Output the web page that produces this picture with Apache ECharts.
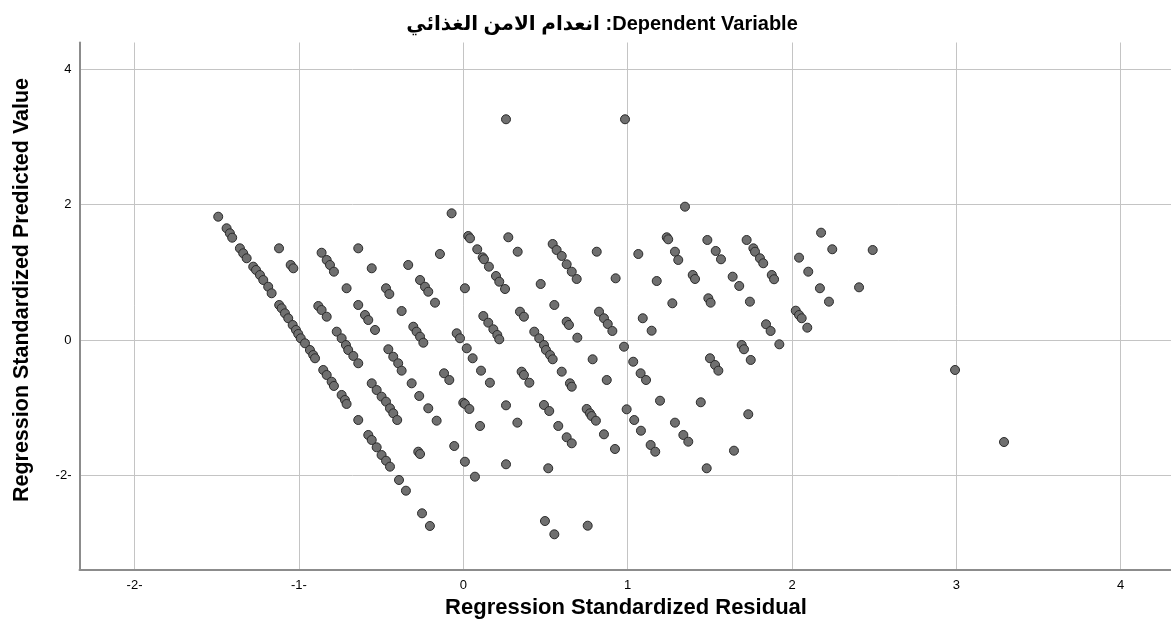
<!DOCTYPE html>
<html>
<head>
<meta charset="utf-8">
<script src="https://cdn.jsdelivr.net/npm/echarts@6/dist/echarts.min.js"></script>
<style>html,body{margin:0;padding:0;background:#fff;}#c{width:1171px;height:643px;}</style>
</head>
<body>
<div id="c"></div>
<script>
const titleText = 'انعدام الامن الغذائي :Dependent Variable';
const xAxisTitle = 'Regression Standardized Residual';
const yAxisTitle = 'Regression Standardized Predicted Value';
const xTickValues = [-2, -1, 0, 1, 2, 3, 4];
const xTickLabels = ['-2-', '-1-', '0', '1', '2', '3', '4'];
const yTickValues = [-2, 0, 2, 4];
const yTickLabels = ['-2-', '0', '2', '4'];

// standardized residual (x) for each case
const residual = [
 -1.491,-1.440,-1.420,-1.406,-1.359,-1.339,-1.318,-1.278,-1.261,-1.237,-1.217,-1.187,-1.166,-1.120,-1.105,-1.085,-1.065,-1.038,-1.018,-1.004,-0.989,-0.963,-0.933,-0.913,-0.902,-0.852,-0.831,-0.801,-0.787,-0.740,-0.720,-0.710,-0.639,-0.578,-0.557,-0.527,-0.497,-0.470,-0.446,-0.391,-0.349,-0.251,-0.203,
 -1.121,-1.050,-1.034,-0.862,-0.831,-0.811,-0.787,-0.639,-0.557,-0.710,-0.470,-0.450,-0.335,-0.263,-0.233,-0.213,-0.172,-0.142,-0.882,-0.862,-0.831,-0.639,-0.598,-0.578,-0.537,-0.375,-0.304,-0.284,-0.263,-0.243,-0.770,-0.740,-0.714,-0.700,-0.669,-0.639,-0.456,-0.426,-0.396,-0.375,
 -0.557,-0.527,-0.497,-0.470,-0.446,-0.426,-0.402,-0.314,-0.268,-0.213,-0.162,-0.274,-0.263,
 0.260,0.984,-0.071,0.030,0.041,0.274,0.331,0.085,0.118,0.126,0.156,0.199,0.219,0.254,0.010,0.544,0.568,0.599,0.629,0.660,0.690,0.812,0.927,1.065,1.238,1.247,1.288,1.308,1.177,1.272,0.471,0.554,0.345,0.369,0.122,0.152,0.183,0.207,0.219,-0.040,-0.020,0.021,0.432,0.462,0.491,0.629,0.643,0.694,0.826,0.856,0.879,0.907,1.092,1.146,0.978,
 0.057,0.108,0.162,-0.117,-0.085,0.000,0.010,0.037,0.102,-0.055,0.010,0.071,0.260,0.329,0.260,0.355,0.369,0.402,0.503,0.528,0.544,0.599,0.649,0.660,0.787,0.873,0.491,0.523,0.578,0.629,0.660,0.517,0.751,0.771,0.781,0.807,0.856,0.923,1.034,1.079,1.112,1.197,0.994,1.040,1.081,1.140,1.168,0.497,0.554,0.757,
 1.349,1.485,1.536,1.568,1.396,1.410,1.639,1.679,1.724,1.765,1.775,1.805,1.825,1.877,1.891,1.491,1.505,1.744,1.842,1.870,1.923,1.694,1.708,1.749,1.501,1.532,1.552,1.445,1.734,1.288,2.177,2.245,2.491,2.043,2.099,2.170,2.225,2.408,2.023,2.043,2.059,2.093,1.339,1.369,1.647,1.481,
 2.992,3.290
];
// standardized predicted value (y) for each case
const predicted = [
 1.821,1.650,1.576,1.511,1.354,1.281,1.207,1.083,1.034,0.960,0.886,0.787,0.690,0.517,0.468,0.394,0.321,0.222,0.148,0.089,0.025,-0.049,-0.148,-0.222,-0.270,-0.443,-0.517,-0.616,-0.679,-0.812,-0.886,-0.945,-1.182,-1.403,-1.477,-1.585,-1.699,-1.783,-1.871,-2.068,-2.226,-2.560,-2.747,
 1.354,1.108,1.059,1.289,1.182,1.108,1.009,1.354,1.059,0.764,0.764,0.679,1.108,0.886,0.787,0.713,0.551,1.270,0.502,0.443,0.344,0.517,0.369,0.295,0.148,0.428,0.196,0.123,0.049,-0.040,0.123,0.025,-0.074,-0.148,-0.236,-0.344,-0.137,-0.247,-0.344,-0.453,
 -0.640,-0.739,-0.837,-0.911,-1.009,-1.083,-1.182,-0.640,-0.827,-1.009,-1.192,-1.650,-1.684,
 3.260,3.260,1.871,1.536,1.502,1.517,1.304,1.340,1.221,1.192,1.083,0.945,0.861,0.753,0.764,1.418,1.329,1.241,1.118,1.009,0.901,1.304,0.911,1.270,1.517,1.487,1.304,1.182,0.871,0.542,0.827,0.517,0.418,0.344,0.354,0.256,0.158,0.074,0.010,0.099,0.025,-0.123,0.123,0.025,-0.074,0.270,0.222,0.034,0.418,0.321,0.236,0.133,0.321,0.137,-0.099,
 -0.270,-0.453,-0.631,-0.492,-0.591,-0.926,-0.945,-1.019,-1.270,-1.566,-1.798,-2.019,-0.965,-1.221,-1.836,-0.468,-0.517,-0.631,-0.148,-0.222,-0.285,-0.468,-0.640,-0.690,-0.285,-0.591,-0.960,-1.049,-1.270,-1.437,-1.526,-1.895,-1.019,-1.083,-1.123,-1.192,-1.393,-1.610,-0.321,-0.492,-0.591,-0.897,-1.024,-1.182,-1.340,-1.551,-1.650,-2.674,-2.870,-2.743,
 1.969,1.477,1.315,1.192,0.960,0.901,0.935,0.798,1.477,1.354,1.304,1.207,1.133,0.960,0.897,0.616,0.551,0.566,0.232,0.133,-0.064,-0.074,-0.137,-0.295,-0.270,-0.369,-0.453,-0.920,-1.097,-1.221,1.585,1.340,1.329,1.216,1.009,0.764,0.566,0.778,0.433,0.369,0.321,0.182,-1.403,-1.502,-1.635,-1.895,
 -0.443,-1.507
];

const points = residual.map((x, i) => [x, predicted[i]]);

const chart = echarts.init(document.getElementById('c'), null, {renderer: 'canvas'});
const FONT = '"Liberation Sans", Arial, "DejaVu Sans", sans-serif';
chart.setOption({
  animation: false,
  backgroundColor: '#ffffff',
  title: {
    text: titleText,
    left: 597,
    textAlign: 'center',
    top: 9,
    textStyle: {fontFamily: FONT, fontWeight: 'bold', fontSize: 20, color: '#000'}
  },
  grid: {left: 79.5, right: 0, top: 42.5, bottom: 73.7, containLabel: false},
  xAxis: {
    type: 'value',
    min: -2.335, max: 4.306,
    axisLine: {show: true, onZero: false, lineStyle: {color: '#8c8c8c', width: 2}},
    axisTick: {show: false, customValues: xTickValues},
    axisLabel: {
      customValues: xTickValues,
      formatter: v => xTickLabels[xTickValues.indexOf(Math.round(v))],
      fontFamily: FONT, fontSize: 13, color: '#000', margin: 10
    },
    splitLine: {show: true, lineStyle: {color: '#c4c4c4', width: 1}}
  },
  yAxis: {
    type: 'value',
    min: -3.387, max: 4.394,
    axisLine: {show: true, onZero: false, lineStyle: {color: '#8c8c8c', width: 2}},
    axisTick: {show: false, customValues: yTickValues},
    axisLabel: {
      customValues: yTickValues,
      formatter: v => yTickLabels[yTickValues.indexOf(Math.round(v))],
      fontFamily: FONT, fontSize: 13, color: '#000', margin: 8
    },
    splitLine: {show: true, lineStyle: {color: '#c4c4c4', width: 1}}
  },
  graphic: [
    {type: 'text', x: 626, y: 608, style: {text: xAxisTitle, fontFamily: FONT, fontWeight: 'bold', fontSize: 22, fill: '#000', align: 'center', verticalAlign: 'middle'}},
    {type: 'text', x: 22, y: 290, rotation: Math.PI / 2, style: {text: yAxisTitle, fontFamily: FONT, fontWeight: 'bold', fontSize: 21.5, fill: '#000', align: 'center', verticalAlign: 'middle'}}
  ],
  series: [{
    type: 'scatter',
    data: points,
    symbol: 'circle',
    symbolSize: 9,
    itemStyle: {color: '#6f6f6f', borderColor: '#2b2b2b', borderWidth: 1, opacity: 1}
  }]
});
</script>
</body>
</html>
